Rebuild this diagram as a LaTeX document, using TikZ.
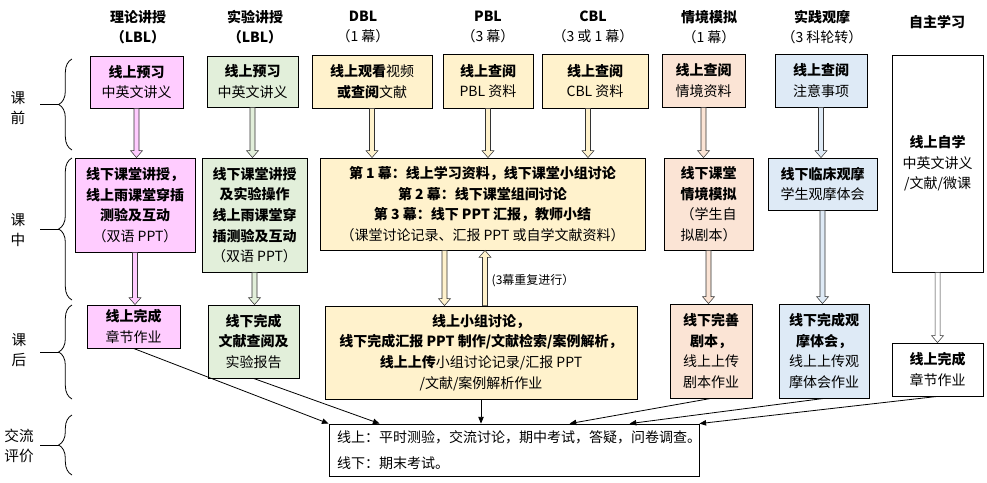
\documentclass[tikz,border=0pt]{standalone}
\usepackage{fontspec}
\setmainfont{Noto Sans CJK SC}
\usepackage{tikz}
\usetikzlibrary{arrows.meta,positioning,calc,decorations.pathreplacing}
\definecolor{lblpink}{RGB}{255,204,255}
\definecolor{expgreen}{RGB}{226,239,218}
\definecolor{caseyellow}{RGB}{255,242,204}
\definecolor{scenepeach}{RGB}{251,228,213}
\definecolor{clinblue}{RGB}{222,234,246}
\newlength{\pxu}
\setlength{\pxu}{0.75pt}
% hollow block arrow: fill, start, tip, signed head length
\newcommand{\hollowarrow}[4]{%
  \filldraw[fill=#1, draw=black!80, line width=0.4pt]
    ($(#2)+(-2.5,0)$) -- ($(#3)+(-2.5,#4)$) -- ($(#3)+(-6,#4)$) -- (#3)
    -- ($(#3)+(6,#4)$) -- ($(#3)+(2.5,#4)$) -- ($(#2)+(2.5,0)$) -- cycle;}

\begin{document}
\begin{tikzpicture}[x=0.75pt, y=-0.75pt,
    box/.style={rectangle, draw=black, line width=0.6pt, align=center, inner sep=2pt,
                font=\fontsize{10.5}{15.5}\selectfont},
    lblbox/.style={box, fill=lblpink},
    expbox/.style={box, fill=expgreen},
    casebox/.style={box, fill=caseyellow},
    scenebox/.style={box, fill=scenepeach},
    clinbox/.style={box, fill=clinblue},
    selfbox/.style={box, fill=white},
    hdr/.style={align=center, font=\fontsize{10.5}{15}\selectfont},
    side/.style={align=center, font=\fontsize{11}{15}\selectfont},
    arr/.style={-{Triangle[length=5pt,width=4pt]}, line width=0.6pt},
    brc/.style={decorate, decoration={brace, amplitude=10pt}, line width=0.6pt}
]
    \useasboundingbox (0,0) rectangle (987,482);

    % column heads
    \node[hdr] (hLBL) at (138,27) {\textbf{理论讲授}\\\textbf{（LBL）}};
    \node[hdr] (hEXP) at (255,27) {\textbf{实验讲授}\\\textbf{（LBL）}};
    \node[hdr] (hDBL) at (363,27) {\textbf{DBL}\\（1 幕）};
    \node[hdr] (hPBL) at (488,27) {\textbf{PBL}\\（3 幕）};
    \node[hdr] (hCBL) at (593,27) {\textbf{CBL}\\（3 或 1 幕）};
    \node[hdr] (hSIM) at (709,27) {\textbf{情境模拟}\\（1 幕）};
    \node[hdr] (hCLI) at (822,27) {\textbf{实践观摩}\\（3 科轮转）};
    \node[hdr] (hSELF) at (937,22) {\textbf{自主学习}};

    % phases on the left
    \node[side] (pre) at (18,108) {课\\前};
    \node[side] (mid) at (18,230) {课\\中};
    \node[side] (post) at (19,350) {课\\后};
    \node[side] (eval) at (19,446) {交流\\评价};
    \draw[brc] (72,150) -- (72,59);
    \draw[line width=0.6pt] (59,104.5) -- (40,104.5);
    \draw[brc] (72,300) -- (72,158);
    \draw[line width=0.6pt] (59,229) -- (40,229);
    \draw[brc] (72,399) -- (72,305);
    \draw[line width=0.6pt] (59,352) -- (40,352);
    \draw[brc] (72,475) -- (72,415);
    \draw[line width=0.6pt] (59,445) -- (40,445);

    % before class
    \node[lblbox, minimum width=93\pxu, minimum height=52\pxu] (A1) at (136.5,82) {\textbf{线上预习}\\中英文讲义};
    \node[expbox, minimum width=91\pxu, minimum height=51\pxu] (B1) at (252.5,81.5) {\textbf{线上预习}\\中英文讲义};
    \node[casebox, minimum width=120\pxu, minimum height=53\pxu] (C1) at (372,81.5) {\textbf{线上观看}视频\\\textbf{或查阅}文献};
    \node[casebox, minimum width=90\pxu, minimum height=54\pxu] (D1) at (488,81) {\textbf{线上查阅}\\PBL 资料};
    \node[casebox, minimum width=106\pxu, minimum height=54\pxu] (E1) at (595,81) {\textbf{线上查阅}\\CBL 资料};
    \node[scenebox, minimum width=83\pxu, minimum height=53\pxu] (F1) at (703.5,80.5) {\textbf{线上查阅}\\情境资料};
    \node[clinbox, minimum width=92\pxu, minimum height=53\pxu] (G1) at (821,80.5) {\textbf{线上查阅}\\注意事项};
    \node[selfbox, minimum width=91\pxu, minimum height=217\pxu] (H) at (937.5,163.5) {\textbf{线上自学}\\中英文讲义\\/文献/微课};

    % in class
    \node[lblbox, minimum width=120\pxu, minimum height=94\pxu] (A2) at (135,205) {\textbf{线下课堂讲授，}\\\textbf{线上雨课堂穿插}\\\textbf{测验及互动}\\（双语 PPT）};
    \node[expbox, minimum width=105\pxu, minimum height=114\pxu] (B2) at (254.5,215) {\textbf{线下课堂讲授}\\\textbf{及实验操作}\\\textbf{线上雨课堂穿}\\\textbf{插测验及互动}\\（双语 PPT）};
    \node[casebox, minimum width=325\pxu, minimum height=92\pxu] (C2) at (482.5,204) {\textbf{第 1 幕：线上学习资料，线下课堂小组讨论}\\\textbf{第 2 幕：线下课堂组间讨论}\\\textbf{第 3 幕：线下 PPT 汇报，教师小结}\\（课堂讨论记录、汇报 PPT 或自学文献资料）};
    \node[scenebox, minimum width=89\pxu, minimum height=92\pxu] (F2) at (708.5,204) {\textbf{线下课堂}\\\textbf{情境模拟}\\（学生自\\拟剧本）};
    \node[clinbox, minimum width=109\pxu, minimum height=52\pxu] (G2) at (822.5,184) {\textbf{线下临床观摩}\\学生观摩体会};

    % after class
    \node[lblbox, minimum width=93\pxu, minimum height=43\pxu] (A3) at (133.5,326.5) {\textbf{线上完成}\\章节作业};
    \node[expbox, minimum width=91\pxu, minimum height=73\pxu] (B3) at (253.5,341.5) {\textbf{线下完成}\\\textbf{文献查阅及}\\实验报告};
    \node[casebox, minimum width=312\pxu, minimum height=93\pxu] (C3) at (481,352.5) {\textbf{线上小组讨论，}\\\textbf{线下完成汇报 PPT 制作/文献检索/案例解析，}\\\textbf{线上上传}小组讨论记录/汇报 PPT\\/文献/案例解析作业};
    \node[scenebox, minimum width=82\pxu, minimum height=94\pxu] (F3) at (711,351) {\textbf{线下完善}\\\textbf{剧本，}\\线上上传\\剧本作业};
    \node[clinbox, minimum width=90\pxu, minimum height=94\pxu] (G3) at (824,351) {\textbf{线下完成观}\\\textbf{摩体会，}\\线上上传观\\摩体会作业};
    \node[selfbox, minimum width=91\pxu, minimum height=53\pxu] (H3) at (937.5,369.5) {\textbf{线上完成}\\章节作业};

    % evaluation
    \node[box, align=left, text width=354\pxu, inner xsep=8\pxu, minimum height=52\pxu,
          font=\fontsize{10.5}{19}\selectfont] (E) at (514,450) {线上：平时测验，交流讨论，期中考试，答疑，问卷调查。\\线下：期末考试。};

    % block arrows between phases
    \coordinate (e1s) at ($(E1.south)+(-7,0)$);
    \coordinate (c2dn) at ($(C2.south)+(-38,0)$);
    \coordinate (c3up) at ($(C3.north)+(4,0)$);
    \hollowarrow{lblpink}{A1.south}{A1.south |- A2.north}{-7}
    \hollowarrow{expgreen}{B1.south}{B1.south |- B2.north}{-7}
    \hollowarrow{caseyellow}{C1.south}{C1.south |- C2.north}{-7}
    \hollowarrow{caseyellow}{D1.south}{D1.south |- C2.north}{-7}
    \hollowarrow{caseyellow}{e1s}{e1s |- C2.north}{-7}
    \hollowarrow{scenepeach}{F1.south}{F1.south |- F2.north}{-7}
    \hollowarrow{clinblue}{G1.south}{G1.south |- G2.north}{-7}
    \hollowarrow{lblpink}{A2.south}{A2.south |- A3.north}{-7}
    \hollowarrow{expgreen}{B2.south}{B2.south |- B3.north}{-7}
    \hollowarrow{caseyellow}{c2dn}{c2dn |- C3.north}{-7}
    \hollowarrow{caseyellow}{c3up}{c3up |- C2.south}{7}
    \hollowarrow{scenepeach}{F2.south}{F2.south |- F3.north}{-7}
    \hollowarrow{clinblue}{G2.south}{G2.south |- G3.north}{-7}
    \hollowarrow{white}{H.south}{H.south |- H3.north}{-7}
    \node[anchor=west, font=\fontsize{9}{11}\selectfont] (rep) at ($(c3up |- 0,281)+(2,0)$) {(3幕重复进行）};

    % to the evaluation box
    \draw[arr] (A3.south) -- (E.north west);
    \draw[arr] (B3.south) -- ($(E.north west)+(51,0)$);
    \draw[arr] (C3.south) -- (C3.south |- E.north);
    \draw[arr] (F3.south) -- ($(E.north west)+(241,0)$);
    \draw[arr] (G3.south) -- ($(E.north west)+(301,0)$);
    \draw[arr] (H3.south) -- (E.north east);
\end{tikzpicture}
\end{document}
